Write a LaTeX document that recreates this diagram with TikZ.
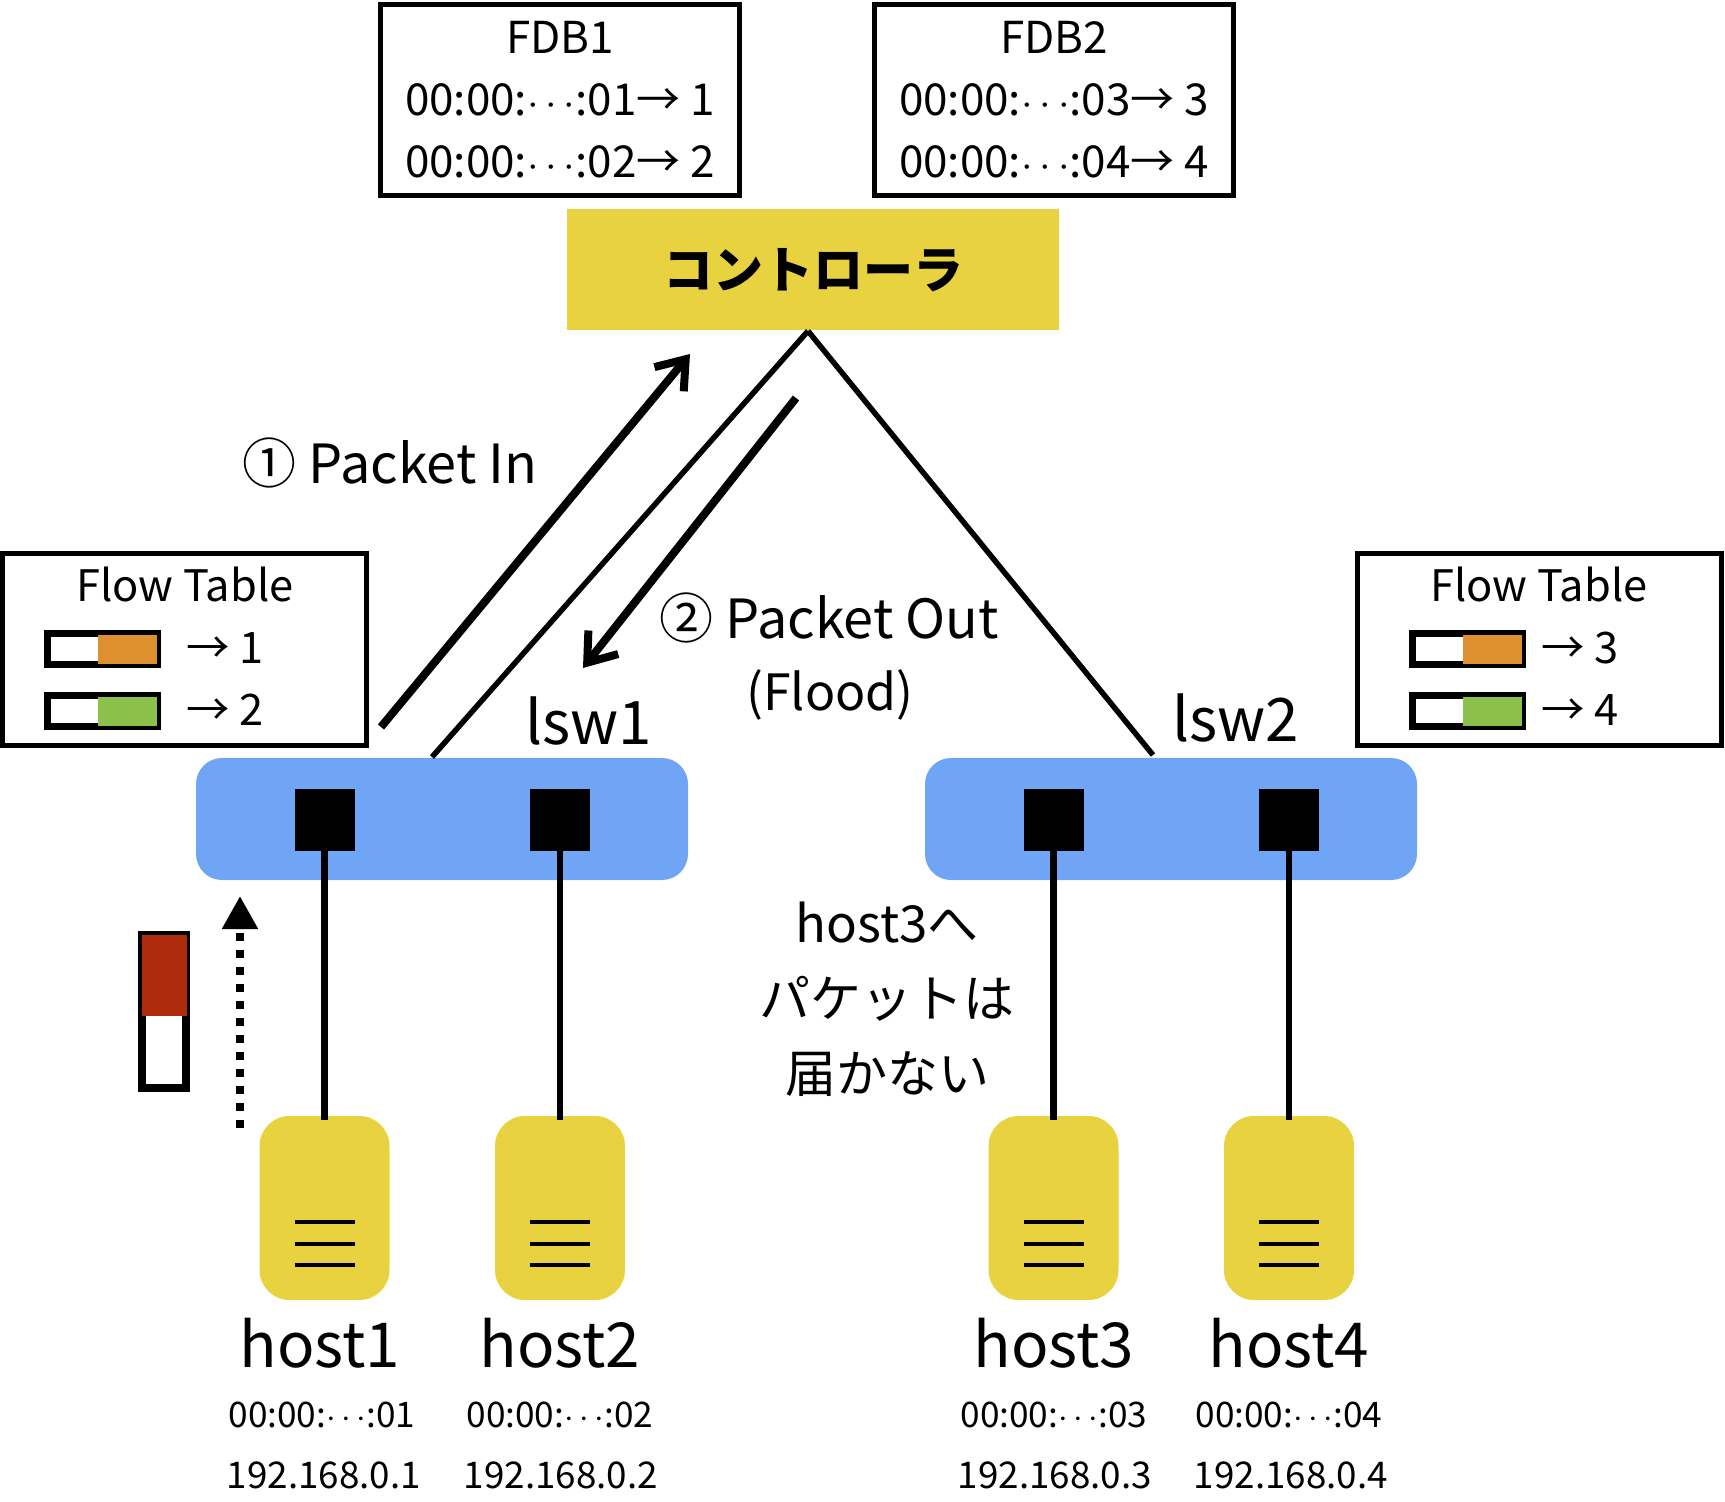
\documentclass[tikz,border=0pt]{standalone}
\usepackage{fontspec}
\setmainfont{Noto Sans CJK JP}
\usetikzlibrary{arrows.meta}
\definecolor{ctrlyellow}{RGB}{233, 210, 63}
\definecolor{swblue}{RGB}{112, 165, 245}
\definecolor{matchorange}{RGB}{222, 143, 46}
\definecolor{matchgreen}{RGB}{139, 192, 75}
\definecolor{pktred}{RGB}{173, 42, 10}
\begin{document}
\begin{tikzpicture}[
      x=0.5pt, y=-0.5pt,
      >={Straight Barb[length=13pt, width=19pt]},
      table/.style={rectangle, draw=black, line width=2.5pt, fill=white, align=center, inner sep=0pt},
      fdb/.style={table, minimum width=179.5pt, minimum height=95.5pt, font=\fontsize{22}{31}\selectfont},
      flowtable/.style={table, minimum width=182pt, minimum height=96pt},
      tabletext/.style={inner sep=0pt, font=\fontsize{21.7}{24}\selectfont},
      slot/.style={rectangle, draw=black, line width=3.5pt, fill=white, inner sep=0pt, minimum width=55pt, minimum height=15.5pt},
      match/.style={rectangle, inner sep=0pt, minimum width=29.5pt, minimum height=14.5pt},
      switch/.style={rectangle, rounded corners=13pt, fill=swblue, inner sep=0pt, minimum width=246pt, minimum height=61pt},
      port/.style={rectangle, fill=black, inner sep=0pt, minimum width=30pt, minimum height=31pt},
      host/.style={rectangle, rounded corners=15pt, fill=ctrlyellow, inner sep=0pt, minimum width=65pt, minimum height=92pt},
      hostname/.style={inner sep=0pt, font=\fontsize{31}{36}\selectfont},
      hostaddr/.style={inner sep=0pt, font=\fontsize{18.4}{20}\selectfont},
      hostmac/.style={inner sep=0pt, font=\fontsize{17.6}{20}\selectfont},
      biglabel/.style={inner sep=0pt, font=\fontsize{27}{37.5}\selectfont, align=center},
      link/.style={line width=3.25pt},
      ctrllink/.style={line width=2.75pt},
      message/.style={->, line width=4pt},
      ventline/.style={line width=2pt}
  ]
  \useasboundingbox (0,0) rectangle (1725,1502);

  % FDB tables
  \node[fdb] (fdba) at (560,100) {FDB1\\00:00:$\cdots$:01→ 1\\00:00:$\cdots$:02→ 2};
  \node[fdb] (fdbb) at (1054,100) {FDB2\\00:00:$\cdots$:03→ 3\\00:00:$\cdots$:04→ 4};

  % Controller
  \node[rectangle, fill=ctrlyellow, inner sep=0pt, minimum width=246pt, minimum height=60.5pt,
        font=\fontsize{25}{30}\selectfont\bfseries] (ctrl) at (813,270) {コントローラ};
  \coordinate (apex) at (808,331);

  % Switches
  \node[switch] (lswa) at (442,819) {};
  \node[switch] (lswb) at (1171,819) {};
  \node[biglabel, font=\fontsize{30}{36}\selectfont] (lswaname) at (589,721) {lsw1};
  \node[biglabel, font=\fontsize{30}{36}\selectfont] (lswbname) at (1236,718) {lsw2};
  \node[port] (pa) at (324.5,820) {};
  \node[port] (pb) at (560,820) {};
  \node[port] (pc) at (1053.5,820) {};
  \node[port] (pd) at (1289,820) {};

  % Flow table A
  \node[flowtable] (tablea) at (184,650) {};
  \node[tabletext] (tableatitle) at (185,585) {Flow Table};
  \node[slot] (slotaa) at (102.5,649.5) {};
  \node[match, fill=matchorange] (matchaa) at (127.5,649.5) {};
  \node[tabletext, anchor=west] (rulaa) at (186,648) {→ 1};
  \node[slot] (slotab) at (102.5,711.5) {};
  \node[match, fill=matchgreen] (matchab) at (127.5,711.5) {};
  \node[tabletext, anchor=west] (rulab) at (186,710) {→ 2};

  % Flow table B
  \node[flowtable] (tableb) at (1539.5,650) {};
  \node[tabletext] (tablebtitle) at (1539,585) {Flow Table};
  \node[slot] (slotba) at (1467.5,649.5) {};
  \node[match, fill=matchorange] (matchba) at (1492.5,649.5) {};
  \node[tabletext, anchor=west] (rulba) at (1541,648) {→ 3};
  \node[slot] (slotbb) at (1467.5,711.5) {};
  \node[match, fill=matchgreen] (matchbb) at (1492.5,711.5) {};
  \node[tabletext, anchor=west] (rulbb) at (1541,710) {→ 4};

  % Controller links
  \coordinate (lswatop) at (432,757);
  \coordinate (lswbtop) at (1153,755);
  \draw[ctrllink] (apex) -- (lswatop);
  \draw[ctrllink] (apex) -- (lswbtop);

  % Messages
  \coordinate (pinstart) at (381,727);
  \coordinate (pinend) at (690,354);
  \coordinate (poutstart) at (796,398);
  \coordinate (poutend) at (583,668);
  \draw[message] (pinstart) -- (pinend);
  \draw[message] (poutstart) -- (poutend);
  \node[biglabel] (pinlabel) at (390,463) {① Packet In};
  \node[biglabel] (poutlabel) at (829,618) {② Packet Out};
  \node[biglabel, font=\fontsize{25}{37.5}\selectfont] (floodlabel) at (830,695) {(Flood)};

  % Hosts
  \node[host] (ha) at (324.5,1208) {};
  \node[host] (hb) at (560,1208) {};
  \node[host] (hc) at (1053.5,1208) {};
  \node[host] (hd) at (1289,1208) {};

  \draw[link] (pa) -- ([yshift=-2pt]ha.north);
  \draw[link] (pb) -- ([yshift=-2pt]hb.north);
  \draw[link] (pc) -- ([yshift=-2pt]hc.north);
  \draw[link] (pd) -- ([yshift=-2pt]hd.north);

  % Vents
  \draw[ventline] ([xshift=-15pt,yshift=-7pt]ha.center) -- ([xshift=15pt,yshift=-7pt]ha.center);
  \draw[ventline] ([xshift=-15pt,yshift=-18pt]ha.center) -- ([xshift=15pt,yshift=-18pt]ha.center);
  \draw[ventline] ([xshift=-15pt,yshift=-28.5pt]ha.center) -- ([xshift=15pt,yshift=-28.5pt]ha.center);
  \draw[ventline] ([xshift=-15pt,yshift=-7pt]hb.center) -- ([xshift=15pt,yshift=-7pt]hb.center);
  \draw[ventline] ([xshift=-15pt,yshift=-18pt]hb.center) -- ([xshift=15pt,yshift=-18pt]hb.center);
  \draw[ventline] ([xshift=-15pt,yshift=-28.5pt]hb.center) -- ([xshift=15pt,yshift=-28.5pt]hb.center);
  \draw[ventline] ([xshift=-15pt,yshift=-7pt]hc.center) -- ([xshift=15pt,yshift=-7pt]hc.center);
  \draw[ventline] ([xshift=-15pt,yshift=-18pt]hc.center) -- ([xshift=15pt,yshift=-18pt]hc.center);
  \draw[ventline] ([xshift=-15pt,yshift=-28.5pt]hc.center) -- ([xshift=15pt,yshift=-28.5pt]hc.center);
  \draw[ventline] ([xshift=-15pt,yshift=-7pt]hd.center) -- ([xshift=15pt,yshift=-7pt]hd.center);
  \draw[ventline] ([xshift=-15pt,yshift=-18pt]hd.center) -- ([xshift=15pt,yshift=-18pt]hd.center);
  \draw[ventline] ([xshift=-15pt,yshift=-28.5pt]hd.center) -- ([xshift=15pt,yshift=-28.5pt]hd.center);

  % Host labels
  \node[hostname] (haname) at (320,1343) {host1};
  \node[hostname] (hbname) at (560,1343) {host2};
  \node[hostname] (hcname) at (1054,1343) {host3};
  \node[hostname] (hdname) at (1289,1343) {host4};
  \node[hostmac] (hamac) at (322,1415) {00:00:$\cdots$:01};
  \node[hostmac] (hbmac) at (560,1415) {00:00:$\cdots$:02};
  \node[hostmac] (hcmac) at (1054,1415) {00:00:$\cdots$:03};
  \node[hostmac] (hdmac) at (1289,1415) {00:00:$\cdots$:04};
  \node[hostaddr] (haip) at (324,1475) {192.168.0.1};
  \node[hostaddr] (hbip) at (561,1475) {192.168.0.2};
  \node[hostaddr] (hcip) at (1055,1475) {192.168.0.3};
  \node[hostaddr] (hdip) at (1291,1475) {192.168.0.4};

  % Packet on its way
  \node[rectangle, draw=black, line width=4pt, fill=white, inner sep=0pt, minimum width=22pt, minimum height=76.5pt] (pkt) at (164,1011.5) {};
  \node[rectangle, fill=pktred, inner sep=0pt, minimum width=22.5pt, minimum height=40.5pt] (pkthead) at (164.5,975.5) {};
  \coordinate (flowstart) at (240,1128);
  \coordinate (flowend) at (240,896);
  \draw[-{Triangle[length=16.5pt, width=17pt]}, line width=4pt, dash pattern=on 4pt off 4.5pt] (flowstart) -- (flowend);

  % Note
  \node[biglabel, font=\fontsize{25.5}{37.5}\selectfont] (note) at (887,999) {host3へ\\パケットは\\届かない};

\end{tikzpicture}
\end{document}
